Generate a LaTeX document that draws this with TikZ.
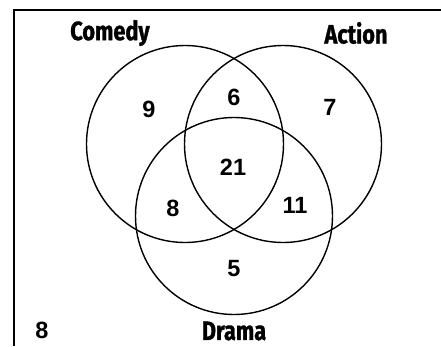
\documentclass[tikz,border=0pt]{standalone}
\usepackage{fontspec}
\setmainfont{Liberation Sans}
\newfontfamily\labelfont[FakeStretch=0.82,BoldFeatures={FakeBold=1.2}]{Fira Sans}
\begin{document}
\begin{tikzpicture}[x=1pt,y=-1pt,
  venn/.style={circle,draw,line width=1.4pt,minimum size=197pt,inner sep=0pt},
  setlabel/.style={font=\labelfont\bfseries\fontsize{26.5}{26.5}\selectfont,inner sep=0pt},
  count/.style={font=\bfseries\fontsize{23.5}{23.5}\selectfont,inner sep=0pt}]
\useasboundingbox (0,0) rectangle (441,346);
\coordinate (tl) at (14,10);
\coordinate (tr) at (441,10);
\coordinate (bl) at (14,346);
\draw[line width=2pt] (tr) -- (tl) -- (bl);
\node[venn] (comedy) at (185,144) {};
\node[venn] (action) at (283,144) {};
\node[venn] (drama) at (234,216) {};
\node[setlabel] (lc) at (110,33) {Comedy};
\node[setlabel] (la) at (356,33) {Action};
\node[setlabel] (ld) at (234,331) {Drama};
\node[count] (n9) at (149,109) {9};
\node[count] (n6) at (234,97) {6};
\node[count] (n7) at (330,107) {7};
\node[count] (n21) at (233,167) {21};
\node[count] (n8) at (173,208) {8};
\node[count] (n11) at (295,205) {11};
\node[count] (n5) at (234,269) {5};
\node[count] (nout) at (42,330) {8};
\end{tikzpicture}
\end{document}
